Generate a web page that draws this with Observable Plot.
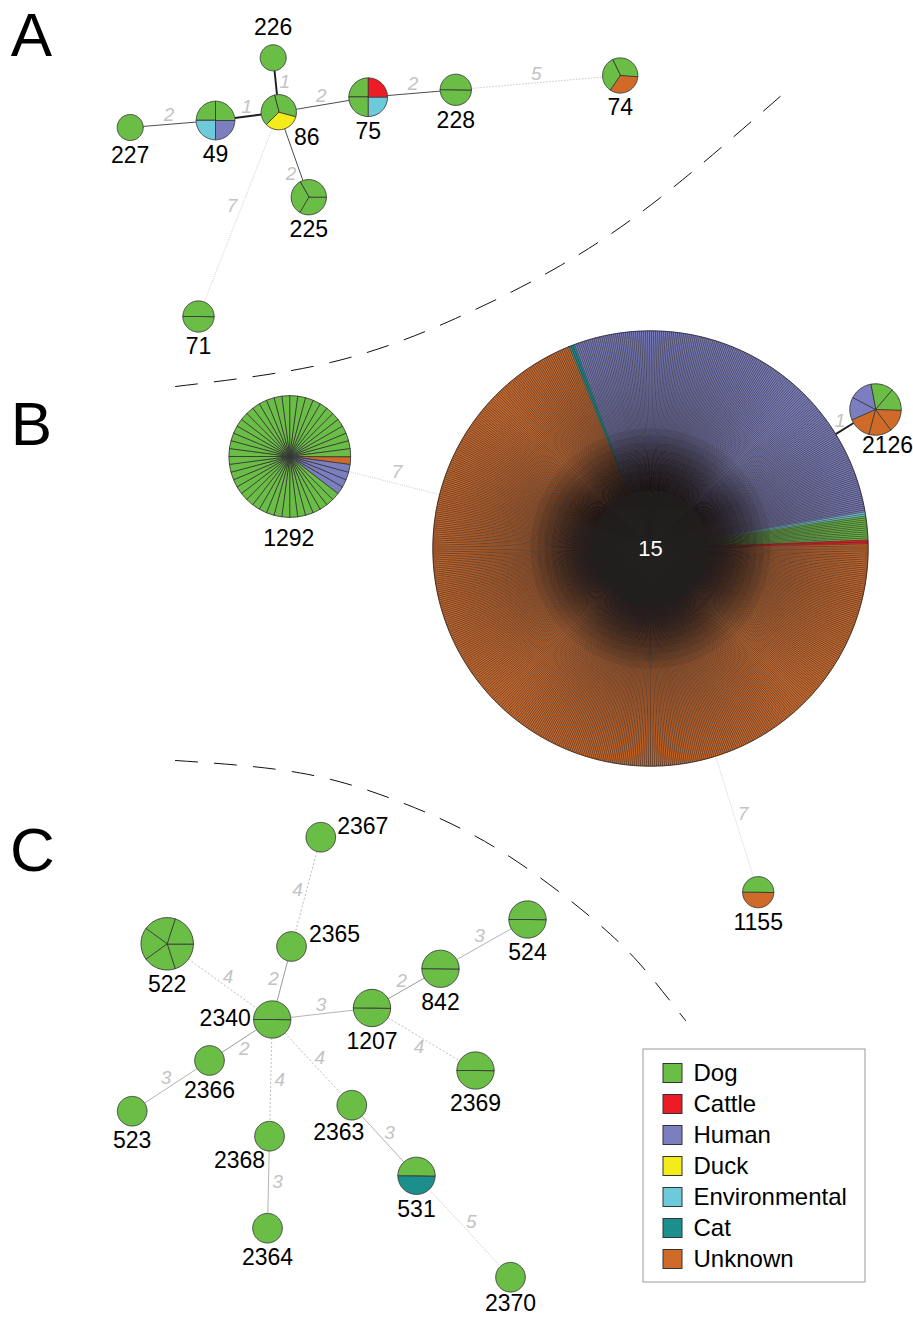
<!DOCTYPE html>
<html>
<head>
<meta charset="utf-8">
<script src="https://cdn.jsdelivr.net/npm/d3@7"></script>
<script src="https://cdn.jsdelivr.net/npm/@observablehq/plot@0.6"></script>
<style>
  html, body { margin: 0; padding: 0; background: #fff; }
  #chart svg { display: block; }
</style>
</head>
<body>
<div id="chart"></div>
<script>
// Isolate sources and their colours
const sources = ["Dog", "Cattle", "Human", "Duck", "Environmental", "Cat", "Unknown"];
const sourceColors = ["#6abd45", "#ed1c24", "#7b7fc0", "#f4eb1a", "#6dcadb", "#1b8f8b", "#d06a28"];

// Panel A: isolates per sequence type, listed in pie order
const panelA = [
  {st: "226", isolates: [["Dog", 1]]},
  {st: "86", isolates: [["Dog", 1], ["Duck", 1], ["Dog", 1]]},
  {st: "49", isolates: [["Dog", 2], ["Human", 1], ["Environmental", 1]]},
  {st: "227", isolates: [["Dog", 1]]},
  {st: "225", isolates: [["Dog", 3]]},
  {st: "75", isolates: [["Dog", 1], ["Cattle", 1], ["Environmental", 1], ["Dog", 1]]},
  {st: "228", isolates: [["Dog", 2]]},
  {st: "74", isolates: [["Dog", 1], ["Unknown", 1], ["Dog", 1]]},
  {st: "71", isolates: [["Dog", 2]]}
];

// Panel B
const panelB = [
  {st: "1292", isolates: [["Unknown", 1], ["Human", 4], ["Dog", 43]]},
  {st: "15", isolates: [["Cat", 3], ["Human", 190], ["Environmental", 2], ["Dog", 12], ["Cattle", 2], ["Unknown", 470]]},
  {st: "2126", isolates: [["Dog", 2], ["Unknown", 3], ["Human", 2]]},
  {st: "1155", isolates: [["Unknown", 1], ["Dog", 1]]}
];

// Panel C
const panelC = [
  {st: "2367", isolates: [["Dog", 1]]},
  {st: "2365", isolates: [["Dog", 1]]},
  {st: "522", isolates: [["Dog", 5]]},
  {st: "2340", isolates: [["Dog", 2]]},
  {st: "1207", isolates: [["Dog", 2]]},
  {st: "842", isolates: [["Dog", 2]]},
  {st: "524", isolates: [["Dog", 2]]},
  {st: "2369", isolates: [["Dog", 2]]},
  {st: "2366", isolates: [["Dog", 1]]},
  {st: "523", isolates: [["Dog", 1]]},
  {st: "2368", isolates: [["Dog", 1]]},
  {st: "2364", isolates: [["Dog", 1]]},
  {st: "2363", isolates: [["Dog", 1]]},
  {st: "531", isolates: [["Cat", 1], ["Dog", 1]]},
  {st: "2370", isolates: [["Dog", 1]]}
];

// Tree edges: [from, to, allelic differences]
const links = [
  ["227", "49", 2], ["49", "86", 1], ["86", "226", 1], ["86", "75", 2], ["86", "225", 2],
  ["75", "228", 2], ["228", "74", 5], ["86", "71", 7],
  ["1292", "15", 7], ["15", "2126", 1], ["15", "1155", 7],
  ["2367", "2365", 4], ["2365", "2340", 2], ["522", "2340", 4], ["2340", "1207", 3],
  ["1207", "842", 2], ["842", "524", 3], ["1207", "2369", 4], ["2340", "2366", 2],
  ["2366", "523", 3], ["2340", "2368", 4], ["2340", "2363", 4], ["2368", "2364", 3],
  ["2363", "531", 3], ["531", "2370", 5]
];

// ---- layout (tree positions in the drawing plane, pie start angle in degrees) ----
const layout = {
  "226": [272.7, 57.3, 0], "86": [278.3, 111.7, -105], "49": [215, 120, 180],
  "227": [129.7, 127, 0], "225": [308.3, 196.7, -120], "75": [367.7, 96.7, 180],
  "228": [455.3, 89.3, 0], "74": [619.7, 75, -116], "71": [198, 316, 0],
  "1292": [289.3, 456, 0], "15": [650, 548, -112], "2126": [875, 409, -101], "1155": [757.7, 891.7, 0],
  "2367": [320.3, 836.7, 0], "2365": [291, 946, 0], "522": [166.7, 943.3, 0],
  "2340": [271.7, 1019, 0], "1207": [371.5, 1007.5, 0], "842": [440, 968.3, 0],
  "524": [527, 919, 0], "2369": [475, 1070, 0], "2366": [209, 1060, 0],
  "523": [131.7, 1110.7, 0], "2368": [269, 1135.7, 0], "2364": [267, 1227.7, 0],
  "2363": [351.3, 1104.7, 0], "531": [416, 1175.3, 0], "2370": [510, 1276.7, 0]
};
// node radius grows with the square root of the isolate count, per panel
const panelRadius = {A: {k: 6.3, base: 6.7}, B: {k: 8.2, base: 4}, C: {k: 9.2, base: 5.6}};
// labels sit below their node unless an offset is given here
const labelOffsets = {
  "226": [0, -30], "86": [28, 25], "1292": [-1, 82], "2126": [12, 36], "15": [0, 0],
  "2367": [42, -11], "2365": [43, -12], "2340": [-47, -1], "2368": [-30, 24], "2363": [-13, 27],
  "2370": [0, 26.5]
};
// which side of an edge its distance label goes, and any shift along it
const edgeLabelPlacement = {
  "86-226": {side: -1}, "86-225": {side: -1, shift: 17}, "86-71": {side: -1, shift: -6},
  "2367-2365": {side: -1}, "2365-2340": {side: -1}, "1207-2369": {side: -1}, "2366-523": {side: -1},
  "1292-15": {gap: 11.5}
};
// edge styles by allelic distance (panel-specific where the panels differ)
const distanceStyles = [
  {d: 1, stroke: "#1e1e1e", width: 1.9, dash: null},
  {d: 2, panel: "A", stroke: "#4d4d4d", width: 1, dash: null},
  {d: 2, panel: "C", stroke: "#9a9a9a", width: 1, dash: null},
  {d: 3, stroke: "#b4b4b4", width: 1, dash: null},
  {d: 4, stroke: "#bdbdbd", width: 1, dash: "2,2"},
  {d: 5, stroke: "#c8c8c8", width: 1, dash: "1.5,1.5"},
  {d: 7, stroke: "#cfcfcf", width: 1, dash: "1,1.2"}
];
const separators = [
  [[175, 386], [330, 362], [455, 318], [560, 265], [660, 197], [782, 94]],
  [[175, 760], [300, 772.5], [400, 801.6], [500, 850.3], [600, 925], [650, 976], [685, 1020]]
];
const panelLetterPos = [["A", 31, 36], ["B", 31, 425], ["C", 32, 851]];
const legendBox = {x1: 643, x2: 865, y1: 1049, y2: 1282, swatchX: 663, firstY: 1073, step: 31, size: 19, textX: 693};
// sequence types drawn with hairline dividers over the fills
const denseTypes = ["15"];
// where the dividers converge they merge into a dark hub: a fan of short strokes that thins outwards
const hubLengths = d3.range(50, 121, 7);
const hubCore = 58;

// ---- derived tables ----
const sequenceTypes = [
  ...panelA.map(d => ({...d, panel: "A"})),
  ...panelB.map(d => ({...d, panel: "B"})),
  ...panelC.map(d => ({...d, panel: "C"}))
];
const nodeInfo = new Map();
for (const t of sequenceTypes) {
  const [x, y, start] = layout[t.st];
  const n = d3.sum(t.isolates, d => d[1]);
  const {k, base} = panelRadius[t.panel];
  nodeInfo.set(t.st, {...t, x, y, start, n, r: k * Math.sqrt(n) + base});
}

// one closed polygon per isolate slice (a full disc for single-isolate types)
const slices = [];
const dividers = [];
const hub = [];
const core = [];
for (const node of nodeInfo.values()) {
  const {st, x, y, start, n, r} = node;
  const step = 360 / n;
  let k = 0;
  for (const [source, count] of node.isolates) {
    for (let i = 0; i < count; i++, k++) {
      const id = `${st}-${k}`;
      const a0 = start + k * step, a1 = a0 + step;
      if (n > 1) slices.push({id, st, source, px: x, py: y, rim: false});
      const m = Math.max(1, Math.ceil((a1 - a0) / 3));
      const last = n > 1 ? m : m - 1;
      for (let j = 0; j <= last; j++) {
        const a = (a0 + (a1 - a0) * j / m) * Math.PI / 180;
        slices.push({id, st, source, px: x + r * Math.cos(a), py: y + r * Math.sin(a), rim: true});
      }
      const b = a0 * Math.PI / 180;
      dividers.push({st, x1: x, y1: y, x2: x + r * Math.cos(b), y2: y + r * Math.sin(b)});
      if (denseTypes.includes(st)) {
        for (const len of hubLengths) hub.push({x1: x, y1: y, x2: x + len * Math.cos(b), y2: y + len * Math.sin(b)});
        core.push({x1: x, y1: y, x2: x + hubCore * Math.cos(b), y2: y + hubCore * Math.sin(b)});
      }
    }
  }
}
const isDense = d => denseTypes.includes(d.st);

// edges run between node rims; the distance label sits beside the visible part
const edges = links.map(([a, b, d]) => {
  const A = nodeInfo.get(a), B = nodeInfo.get(b);
  const dx = B.x - A.x, dy = B.y - A.y, L = Math.hypot(dx, dy);
  const ux = dx / L, uy = dy / L;
  const p = edgeLabelPlacement[`${a}-${b}`] || {};
  const along = (A.r + L - B.r) / 2 + (p.shift || 0);
  const gap = (p.gap || 9) * (p.side || 1);
  return {
    d, panel: A.panel,
    x1: A.x + ux * A.r, y1: A.y + uy * A.r,
    x2: B.x - ux * B.r, y2: B.y - uy * B.r,
    lx: A.x + ux * along + uy * gap,
    ly: A.y + uy * along - ux * gap
  };
});

const nodeLabels = [...nodeInfo.values()].map(n => {
  const off = labelOffsets[n.st] || [0, n.r + 15];
  return {st: n.st, x: n.x + off[0], y: n.y + off[1], inside: n.st === "15"};
});

const separatorRows = separators.flatMap((pts, i) => pts.map(([x, y]) => ({i, x, y})));
const legendRows = sources.map((s, i) => ({source: s, i}));
const font = "Liberation Sans, Arial, Helvetica, sans-serif";

const chart = Plot.plot({
  width: 913,
  height: 1317,
  margin: 0,
  x: {domain: [0, 913], range: [0, 913], axis: null},
  y: {domain: [0, 1317], range: [0, 1317], axis: null},
  color: {domain: sources, range: sourceColors},
  style: {fontFamily: font, background: "#fff"},
  marks: [
    // dashed boundaries between panels
    Plot.line(separatorRows, {x: "x", y: "y", z: "i", curve: "natural", stroke: "#111", strokeWidth: 1, strokeDasharray: "22,17"}),
    // edges, styled by allelic distance
    ...distanceStyles.map(s => Plot.link(edges.filter(e => e.d === s.d && (!s.panel || e.panel === s.panel)), {
      x1: "x1", y1: "y1", x2: "x2", y2: "y2",
      stroke: s.stroke, strokeWidth: s.width, strokeDasharray: s.dash
    })),
    Plot.text(edges, {x: "lx", y: "ly", text: d => String(d.d), fill: "#c3c3c3", fontSize: 19, fontStyle: "italic"}),
    // the large sequence type: fills, then hairline dividers, hub, rim
    Plot.line(slices.filter(isDense), {
      x: "px", y: "py", z: "id", fill: "source", stroke: "source", strokeWidth: 0.3, curve: "linear-closed"
    }),
    Plot.link(dividers.filter(isDense), {x1: "x1", y1: "y1", x2: "x2", y2: "y2", stroke: "#231f20", strokeWidth: 0.6}),
    Plot.link(hub, {x1: "x1", y1: "y1", x2: "x2", y2: "y2", stroke: "#231f20", strokeWidth: 0.14}),
    Plot.link(core, {x1: "x1", y1: "y1", x2: "x2", y2: "y2", stroke: "#231f20", strokeWidth: 0.7}),
    Plot.line(slices.filter(d => isDense(d) && d.rim), {x: "px", y: "py", z: "st", stroke: "#231f20", strokeWidth: 0.8, curve: "linear-closed"}),
    // all other pies
    Plot.line(slices.filter(d => !isDense(d)), {
      x: "px", y: "py", z: "id", fill: "source", stroke: "#383838", strokeWidth: 0.9, curve: "linear-closed"
    }),
    // sequence type labels
    Plot.text(nodeLabels.filter(d => !d.inside), {x: "x", y: "y", text: "st", fill: "#000", fontSize: 23}),
    Plot.text(nodeLabels.filter(d => d.inside), {x: "x", y: "y", text: "st", fill: "#fff", fontSize: 22}),
    // panel letters
    Plot.text(panelLetterPos, {x: d => d[1], y: d => d[2], text: d => d[0], fill: "#000", fontSize: 62}),
    // legend
    Plot.rect([legendBox], {x1: "x1", x2: "x2", y1: "y1", y2: "y2", fill: "#fff", stroke: "#9a9a9a", strokeWidth: 1}),
    Plot.rect(legendRows, {
      x1: () => legendBox.swatchX, x2: () => legendBox.swatchX + legendBox.size,
      y1: d => legendBox.firstY + d.i * legendBox.step - legendBox.size / 2,
      y2: d => legendBox.firstY + d.i * legendBox.step + legendBox.size / 2,
      fill: "source", stroke: "#333", strokeWidth: 1
    }),
    Plot.text(legendRows, {
      x: () => legendBox.textX, y: d => legendBox.firstY + d.i * legendBox.step,
      text: "source", textAnchor: "start", fill: "#000", fontSize: 24
    })
  ]
});
document.getElementById("chart").append(chart);
</script>
</body>
</html>
